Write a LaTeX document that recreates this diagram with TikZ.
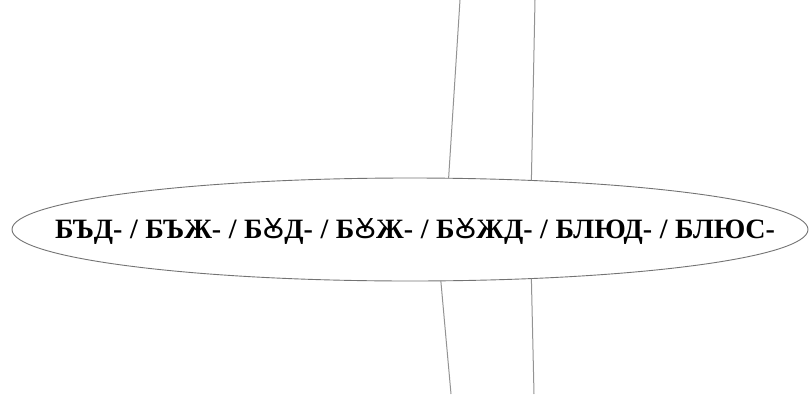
\documentclass[tikz,border=0pt]{standalone}
\usepackage{fontspec}
\setmainfont{Liberation Serif}
\newfontfamily\ukfont{Noto Sans}
\usetikzlibrary{shapes.geometric}

\newcommand{\ukletter}{{\ukfont Ꙋ}}
\newcommand{\rootsep}{\hspace{0.27em}/\hspace{0.27em}}

\tikzset{
  rootoval/.style={draw=gray!90!black, line width=0.9pt, ellipse, outer sep=0pt,
    minimum width=796pt, minimum height=103pt, inner sep=0pt},
  rootline/.style={draw=gray!85, line width=1pt}
}

\begin{document}
\begin{tikzpicture}[x=1pt, y=-1pt]

        \useasboundingbox (0,0) rectangle (812,394);
        %Roots
        \node [rootoval] (roots) at (410,229.5) {};
        \node (rootstext) at (415,231) {\fontsize{28}{30}\selectfont\bfseries
          БЪД-\rootsep БЪЖ-\rootsep Б\ukletter Д-\rootsep Б\ukletter Ж-\rootsep
          Б\ukletter ЖД-\rootsep БЛЮД-\rootsep БЛЮС-};
        %Upper lines
        \coordinate (upA) at (460,0);
        \coordinate (upB) at (535,0);
        \draw [rootline] (upA) -- (roots.53.8);
        \draw [rootline] (upB) -- (roots.22.4);
        %Lower lines
        \coordinate (lowA) at (451,394);
        \coordinate (lowB) at (534,394);
        \draw [rootline] (roots.-59) -- (lowA);
        \draw [rootline] (roots.-22.9) -- (lowB);

\end{tikzpicture}
\end{document}
